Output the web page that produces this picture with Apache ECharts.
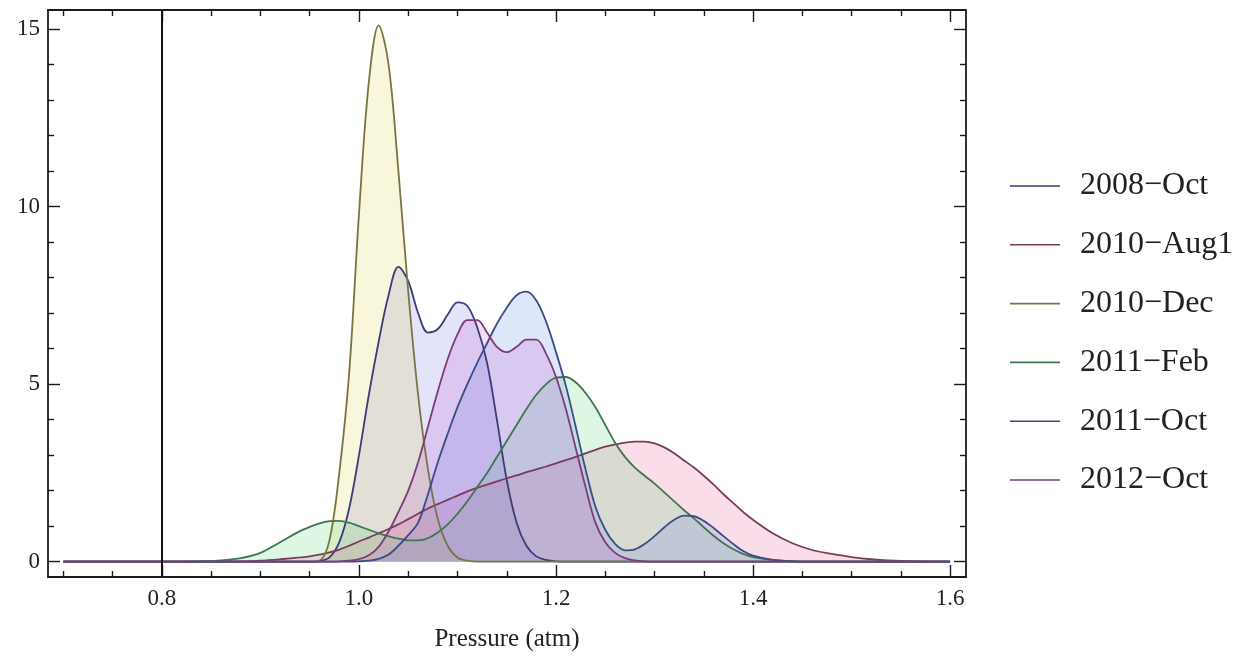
<!DOCTYPE html>
<html>
<head>
<meta charset="utf-8">
<title>Pressure distributions</title>
<script src="https://cdn.jsdelivr.net/npm/echarts@6/dist/echarts.min.js"></script>
<style>
  html, body { margin: 0; padding: 0; background: #fff; }
  #chart { width: 1258px; height: 657px; }
</style>
</head>
<body>
<div id="chart"></div>
<script>
// 横轴采样点 (atm)
const pressure = [0.70, 0.75, 0.80, 0.82, 0.84, 0.86, 0.88, 0.90, 0.92, 0.94,
  0.95, 0.96, 0.97, 0.98, 0.99, 1.00, 1.01, 1.02, 1.03, 1.04,
  1.05, 1.06, 1.07, 1.08, 1.09, 1.10, 1.11, 1.12, 1.13, 1.14,
  1.15, 1.16, 1.17, 1.18, 1.19, 1.20, 1.21, 1.22, 1.23, 1.24,
  1.25, 1.26, 1.27, 1.28, 1.29, 1.30, 1.31, 1.32, 1.33, 1.34,
  1.35, 1.36, 1.37, 1.38, 1.39, 1.40, 1.42, 1.44, 1.46, 1.48,
  1.50, 1.52, 1.55, 1.60];

// 各期密度
const oct2008 = [0, 0, 0, 0, 0, 0, 0, 0, 0, 0,
  0, 0.02, 0.12, 0.55, 1.5, 3.0, 4.7, 6.2, 7.5, 8.3,
  7.9, 7.0, 6.45, 6.55, 6.95, 7.3, 7.2, 6.6, 5.6, 4.0,
  2.3, 1.1, 0.45, 0.15, 0.05, 0.01, 0, 0, 0, 0,
  0, 0, 0, 0, 0, 0, 0, 0, 0, 0,
  0, 0, 0, 0, 0, 0, 0, 0, 0, 0,
  0, 0, 0, 0];
const aug2010 = [0, 0, 0, 0, 0, 0.005, 0.01, 0.03, 0.07, 0.12,
  0.15, 0.2, 0.26, 0.34, 0.45, 0.57, 0.68, 0.8, 0.92, 1.05,
  1.2, 1.35, 1.5, 1.62, 1.74, 1.86, 1.98, 2.08, 2.17, 2.26,
  2.35, 2.43, 2.52, 2.6, 2.68, 2.77, 2.86, 2.95, 3.05, 3.15,
  3.24, 3.3, 3.35, 3.38, 3.38, 3.33, 3.22, 3.05, 2.85, 2.65,
  2.42, 2.17, 1.9, 1.65, 1.4, 1.18, 0.8, 0.52, 0.33, 0.22,
  0.13, 0.07, 0.02, 0];
const dec2010 = [0, 0, 0, 0, 0, 0, 0, 0, 0, 0,
  0, 0.03, 0.6, 2.5, 5.3, 9.8, 13.5, 15.1, 14.0, 11.0,
  7.6, 4.7, 2.6, 1.2, 0.45, 0.12, 0.03, 0, 0, 0,
  0, 0, 0, 0, 0, 0, 0, 0, 0, 0,
  0, 0, 0, 0, 0, 0, 0, 0, 0, 0,
  0, 0, 0, 0, 0, 0, 0, 0, 0, 0,
  0, 0, 0, 0];
const feb2011 = [0, 0, 0, 0.005, 0.015, 0.04, 0.1, 0.25, 0.55, 0.86,
  0.98, 1.08, 1.14, 1.15, 1.1, 1.0, 0.9, 0.8, 0.72, 0.65,
  0.6, 0.6, 0.66, 0.82, 1.05, 1.35, 1.7, 2.1, 2.5, 2.95,
  3.4, 3.85, 4.3, 4.7, 5.0, 5.18, 5.2, 5.05, 4.75, 4.35,
  3.85, 3.35, 2.95, 2.65, 2.42, 2.2, 1.95, 1.7, 1.45, 1.22,
  0.97, 0.73, 0.52, 0.35, 0.22, 0.13, 0.05, 0.015, 0, 0,
  0, 0, 0, 0];
const oct2011 = [0, 0, 0, 0, 0, 0, 0, 0, 0, 0,
  0, 0, 0, 0, 0, 0.01, 0.03, 0.08, 0.2, 0.45,
  0.75, 1.1, 1.9, 2.8, 3.6, 4.35, 5.0, 5.6, 6.15, 6.7,
  7.15, 7.5, 7.6, 7.35, 6.75, 5.9, 4.95, 3.8, 2.6, 1.55,
  0.9, 0.5, 0.32, 0.35, 0.5, 0.72, 0.97, 1.18, 1.3, 1.28,
  1.15, 0.95, 0.72, 0.5, 0.3, 0.17, 0.05, 0.01, 0, 0,
  0, 0, 0, 0];
const oct2012 = [0, 0, 0, 0, 0, 0, 0, 0, 0, 0,
  0, 0, 0, 0.01, 0.03, 0.07, 0.18, 0.42, 0.85, 1.4,
  2.0, 2.8, 3.8, 4.8, 5.7, 6.4, 6.8, 6.8, 6.45, 6.05,
  5.9, 6.05, 6.25, 6.25, 5.85, 5.2, 4.3, 3.2, 2.1, 1.1,
  0.55, 0.25, 0.1, 0.04, 0.01, 0, 0, 0, 0, 0,
  0, 0, 0, 0, 0, 0, 0, 0, 0, 0,
  0, 0, 0, 0];

const seriesNames = ['2008−Oct', '2010−Aug1', '2010−Dec', '2011−Feb', '2011−Oct', '2012−Oct'];
const seriesValues = [oct2008, aug2010, dec2010, feb2011, oct2011, oct2012];
// 线色偏暗，填充色偏亮
const lineColors = ['#3c3c78', '#7a3c5e', '#7a7444', '#3e7650', '#3c4c88', '#7a3c7a'];
const fillColors = ['#6a6ae0', '#e0508c', '#d8d040', '#50d070', '#5078e0', '#c050c8'];

// 刻度
const xMajor = [0.8, 1.0, 1.2, 1.4, 1.6];
const xMinor = [0.70, 0.75, 0.85, 0.90, 0.95, 1.05, 1.10, 1.15, 1.25, 1.30, 1.35, 1.45, 1.50, 1.55];
const yMajor = [0, 5, 10, 15];
const yMinor = [1, 2, 3, 4, 6, 7, 8, 9, 11, 12, 13, 14];
const originX = 0.8;

const X_MIN = 0.6843, X_MAX = 1.6162;
const Y_MIN = -0.43, Y_MAX = 15.53;
const FONT = 'Liberation Serif';
const INK = '#1a1a1a';

// 边框轴
function frameAxis(kind, position, ticks, len, lineOn, labelOn) {
  const axis = {
    type: 'value',
    position: position,
    min: kind === 'x' ? X_MIN : Y_MIN,
    max: kind === 'x' ? X_MAX : Y_MAX,
    axisLine: { show: lineOn, onZero: false, lineStyle: { color: INK, width: 1.8 } },
    axisTick: { show: true, inside: true, length: len, customValues: ticks, lineStyle: { color: INK, width: 1.4 } },
    axisLabel: { show: false },
    splitLine: { show: false },
  };
  if (labelOn) {
    axis.axisLabel = {
      show: true,
      customValues: ticks,
      fontFamily: FONT,
      fontSize: 23,
      color: '#222',
      margin: kind === 'x' ? 10 : 8,
      formatter: (v) => (kind === 'x' ? v.toFixed(1) : String(v)),
    };
  }
  return axis;
}

const chart = echarts.init(document.getElementById('chart'), null, { renderer: 'canvas' });

const xAxes = [
  frameAxis('x', 'bottom', xMajor, 12, true, true),
  frameAxis('x', 'bottom', xMinor, 6, false, false),
  frameAxis('x', 'top', xMajor, 12, true, false),
  frameAxis('x', 'top', xMinor, 6, false, false),
];
xAxes[0].name = 'Pressure (atm)';
xAxes[0].nameLocation = 'middle';
xAxes[0].nameGap = 50;
xAxes[0].nameTextStyle = { fontFamily: FONT, fontSize: 25, color: '#222' };

const yAxes = [
  frameAxis('y', 'left', yMajor, 12, true, true),
  frameAxis('y', 'left', yMinor, 6, false, false),
  frameAxis('y', 'right', yMajor, 12, true, false),
  frameAxis('y', 'right', yMinor, 6, false, false),
];

const series = seriesNames.map((name, i) => {
  const s = {
    name: name,
    type: 'line',
    xAxisIndex: 0,
    yAxisIndex: 0,
    smooth: 0.35,
    symbol: 'none',
    showSymbol: false,
    color: lineColors[i],
    lineStyle: { width: 1.8, color: lineColors[i] },
    areaStyle: { color: fillColors[i], opacity: 0.19 },
    data: pressure.map((p, k) => [p, seriesValues[i][k]]),
  };
  if (i === 0) {
    // 0.8 处的竖直轴线
    s.markLine = {
      silent: true,
      symbol: ['none', 'none'],
      label: { show: false },
      lineStyle: { color: '#111', width: 2, type: 'solid' },
      data: [{ xAxis: originX }],
    };
  }
  return s;
});

chart.setOption({
  backgroundColor: '#fff',
  animation: false,
  grid: { left: 48, right: 292, top: 10, bottom: 79 },
  legend: {
    orient: 'vertical',
    left: 1010,
    top: 170,
    padding: 0,
    icon: 'rect',
    itemWidth: 50,
    itemHeight: 1.6,
    itemGap: 26.8,
    textStyle: { fontFamily: FONT, fontSize: 32, color: '#222', padding: [0, 0, 0, 15] },
    data: seriesNames,
  },
  xAxis: xAxes,
  yAxis: yAxes,
  series: series,
});
</script>
</body>
</html>
